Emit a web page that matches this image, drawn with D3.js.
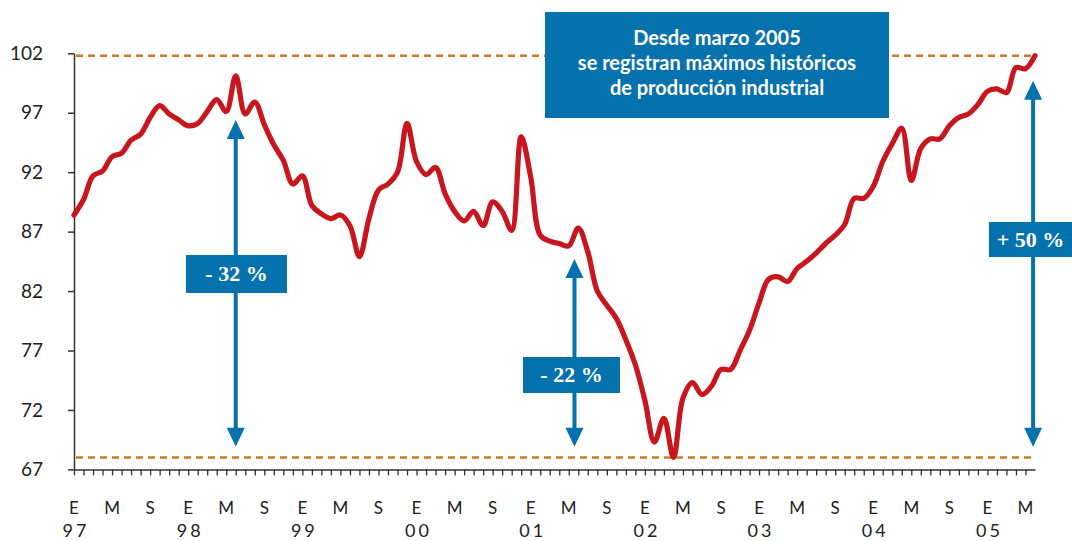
<!DOCTYPE html>
<html>
<head>
<meta charset="utf-8">
<script src="https://cdn.jsdelivr.net/npm/d3@7"></script>
<style>
  body { margin: 0; background: #fff; }
  svg { display: block; }
</style>
</head>
<body>
<div id="chart"></div>
<script>
// Índice de producción industrial, mensual desde enero 1997
const produccion = [
  88.4, 89.7, 91.7, 92.1, 93.3, 93.6, 94.7, 95.2, 96.6, 97.6, 96.9, 96.4,
  95.9, 96.1, 97.1, 98.1, 97.1, 100.1, 96.9, 97.9, 96.0, 94.3, 93.0, 91.0,
  91.7, 89.2, 88.5, 88.1, 88.4, 87.5, 84.9, 88.1, 90.5, 91.0, 92.0, 96.1,
  92.9, 91.8, 92.4, 90.2, 88.7, 87.9, 88.7, 87.5, 89.5, 88.7, 87.1, 95.0,
  91.6, 86.7, 86.2, 86.0, 85.8, 87.3, 85.3, 82.0, 80.8, 79.7, 77.9, 75.8,
  72.8, 69.3, 71.3, 68.0, 73.0, 74.3, 73.3, 74.0, 75.4, 75.4, 77.0, 78.7,
  81.0, 83.0, 83.2, 82.8, 83.9, 84.5, 85.2, 86.0, 86.7, 87.6, 89.8, 89.8,
  90.8, 92.9, 94.4, 95.7, 91.3, 94.0, 94.8, 94.8, 95.9, 96.6, 96.9, 97.7,
  98.8, 99.0, 98.7, 100.8, 100.7, 101.8
];
const yTicks = [67, 72, 77, 82, 87, 92, 97, 102];
const letrasMes = ['E', 'M', 'S'];
const anios = ['97', '98', '99', '00', '01', '02', '03', '04', '05'];
const nivelMax = 101.8;
const nivelMin = 68.0;
// flechas: [mes, valor arriba, valor abajo, etiqueta]
const flechas = [
  { mes: 17, arriba: 96.4, abajo: 68.9, texto: '- 32 %' },
  { mes: 52.6, arriba: 84.7, abajo: 68.9, texto: '- 22 %' },
  { mes: 100.8, arriba: 99.7, abajo: 68.9, texto: '+ 50 %' }
];
const notaLineas = ['Desde marzo 2005', 'se registran máximos históricos', 'de producción industrial'];

const width = 1072, height = 541;
const azul = '#0572ad', rojo = '#c8161e', naranja = '#c97b22';

const svg = d3.select('#chart').append('svg')
  .attr('width', width).attr('height', height);

const x = d3.scaleLinear().domain([0, produccion.length - 1]).range([74, 1035]);
const y = d3.scaleLinear().domain([67, 102]).range([469.4, 53.3]);

// ejes
const yAxis = svg.append('g')
  .attr('transform', `translate(${x(0)},0)`)
  .call(d3.axisLeft(y).tickValues(yTicks).tickSize(6).tickSizeOuter(0).tickPadding(25));
yAxis.select('.domain').attr('stroke', '#333').attr('stroke-width', 1.5);
yAxis.selectAll('.tick line').attr('stroke', '#333').attr('stroke-width', 1.5);
yAxis.selectAll('.tick text')
  .attr('font-family', 'Lato, "Open Sans", sans-serif')
  .attr('font-size', 19).attr('fill', '#222');

const xAxis = svg.append('g')
  .attr('transform', `translate(0,${y(67)})`)
  .call(d3.axisBottom(x).tickValues(d3.range(0, 101)).tickSize(6).tickSizeOuter(0).tickFormat(''));
xAxis.select('.domain').attr('stroke', '#333').attr('stroke-width', 1.5);
xAxis.selectAll('.tick line').attr('stroke', '#333').attr('stroke-width', 1.3);

svg.append('g').selectAll('text')
  .data(d3.range(0, 101, 4))
  .join('text')
  .attr('x', d => x(d))
  .attr('y', 514)
  .attr('text-anchor', 'middle')
  .attr('font-family', 'Lato, "Open Sans", sans-serif')
  .attr('font-size', 17).attr('fill', '#222')
  .text(d => letrasMes[(d / 4) % 3]);

svg.append('g').selectAll('text')
  .data(anios)
  .join('text')
  .attr('x', (d, i) => x(i * 12) + 2)
  .attr('y', 537)
  .attr('text-anchor', 'middle')
  .attr('letter-spacing', 3)
  .attr('font-family', 'Lato, "Open Sans", sans-serif')
  .attr('font-size', 18).attr('fill', '#222')
  .text(d => d);

// niveles punteados
svg.append('g').selectAll('line')
  .data([nivelMax, nivelMin])
  .join('line')
  .attr('x1', x(0) + 2).attr('x2', x(produccion.length - 1))
  .attr('y1', d => y(d)).attr('y2', d => y(d))
  .attr('stroke', naranja).attr('stroke-width', 2.6)
  .attr('stroke-dasharray', '7,5');

// serie
const line = d3.line()
  .x((d, i) => x(i))
  .y(d => y(d))
  .curve(d3.curveCatmullRom.alpha(0.5));

svg.append('path')
  .datum(produccion)
  .attr('d', line)
  .attr('fill', 'none')
  .attr('stroke', rojo)
  .attr('stroke-width', 5.2)
  .attr('stroke-linejoin', 'round')
  .attr('stroke-linecap', 'round');

// flechas dobles
const cabeza = 19, medio = 9;
const gF = svg.append('g').selectAll('g').data(flechas).join('g');
gF.append('line')
  .attr('x1', d => x(d.mes)).attr('x2', d => x(d.mes))
  .attr('y1', d => y(d.arriba) + cabeza - 1).attr('y2', d => y(d.abajo) - cabeza + 1)
  .attr('stroke', azul).attr('stroke-width', 4);
gF.append('path')
  .attr('fill', azul)
  .attr('d', d => {
    const cx = x(d.mes), t = y(d.arriba), b = y(d.abajo);
    return `M${cx},${t}L${cx + medio},${t + cabeza}L${cx - medio},${t + cabeza}Z` +
      `M${cx},${b}L${cx + medio},${b - cabeza}L${cx - medio},${b - cabeza}Z`;
  });

// etiquetas de porcentaje
const cajas = [
  { x0: 186, y0: 255, w: 101, h: 38 },
  { x0: 523, y0: 357, w: 97, h: 36 },
  { x0: 989, y0: 222, w: 83, h: 35 }
];
const gC = svg.append('g').selectAll('g').data(flechas).join('g');
gC.append('rect')
  .attr('x', (d, i) => cajas[i].x0).attr('y', (d, i) => cajas[i].y0)
  .attr('width', (d, i) => cajas[i].w).attr('height', (d, i) => cajas[i].h)
  .attr('fill', azul);
gC.append('text')
  .attr('x', (d, i) => cajas[i].x0 + cajas[i].w / 2)
  .attr('y', (d, i) => cajas[i].y0 + cajas[i].h / 2 + 7)
  .attr('text-anchor', 'middle')
  .attr('font-family', '"Liberation Serif", "DejaVu Serif", serif')
  .attr('font-weight', 'bold')
  .attr('font-size', 22).attr('fill', '#fff')
  .text(d => d.texto);

// nota
svg.append('rect')
  .attr('x', 545).attr('y', 12).attr('width', 344).attr('height', 106)
  .attr('fill', azul);
svg.append('g').selectAll('text')
  .data(notaLineas)
  .join('text')
  .attr('x', 717)
  .attr('y', (d, i) => 45 + i * 25)
  .attr('text-anchor', 'middle')
  .attr('font-family', 'Lato, "Open Sans", sans-serif')
  .attr('font-weight', 'bold')
  .attr('font-size', 20).attr('fill', '#fff')
  .text(d => d);
</script>
</body>
</html>
